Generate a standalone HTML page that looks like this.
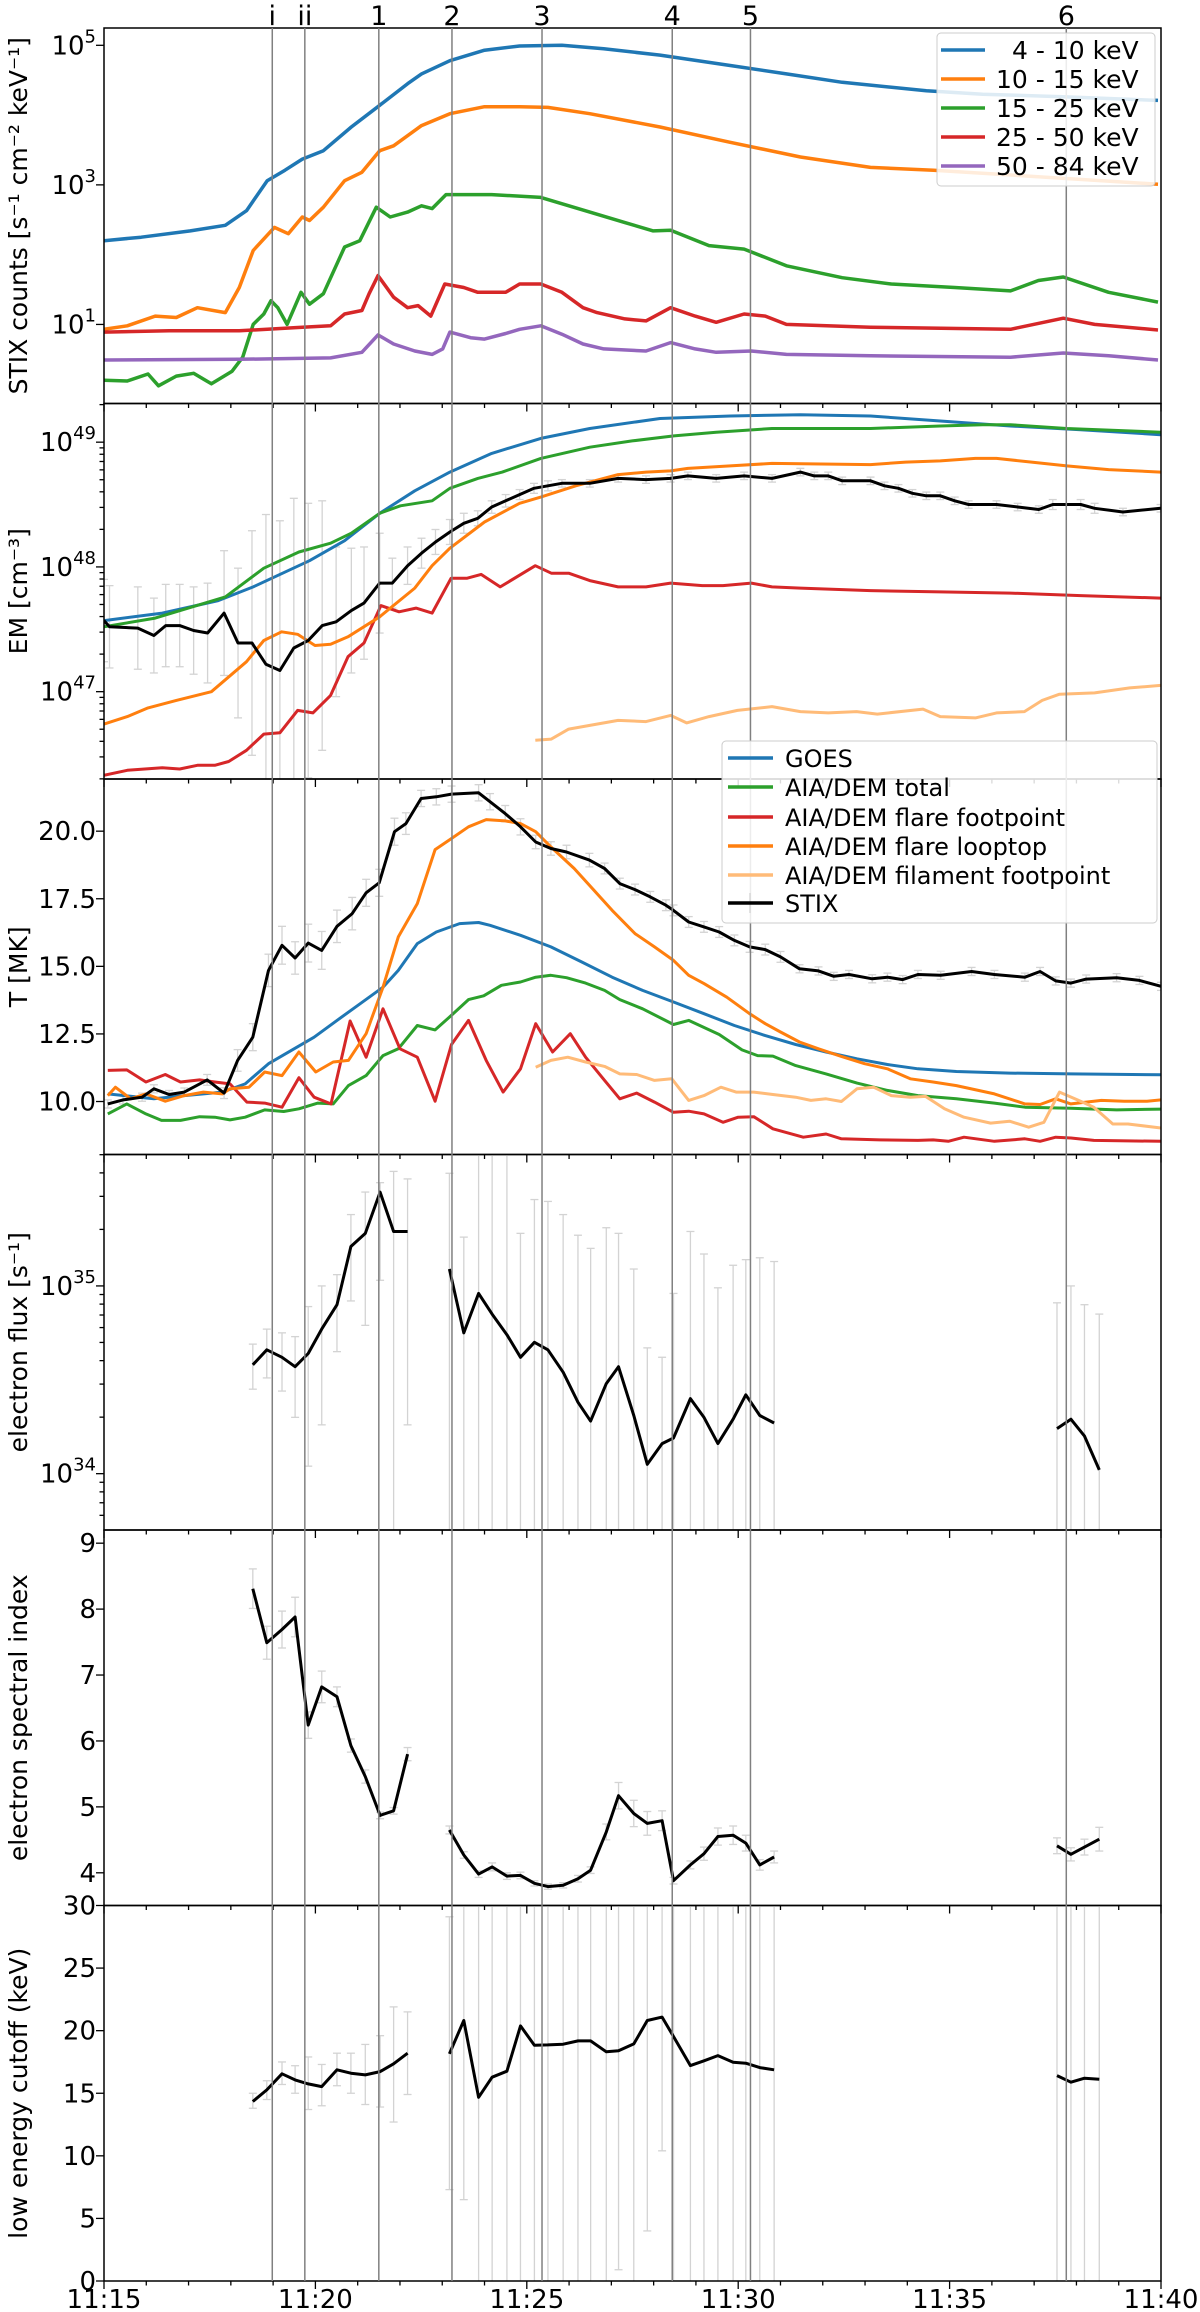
<!DOCTYPE html>
<html><head><meta charset="utf-8"><title>STIX flare overview</title>
<style>
html,body{margin:0;padding:0;background:#fff;}
svg{display:block;font-family:"DejaVu Sans","Liberation Sans",sans-serif;}
</style></head>
<body>
<svg id="chart" width="1200" height="2312" viewBox="0 0 1200 2312" xmlns="http://www.w3.org/2000/svg">
<g id="gl"></g>
</svg>
<script>
// ---------- Panel 1: STIX counts (log10 values) ----------
const tC1 = [0,0.88,2.04,2.87,3.37,3.86,4.28,4.69,5.19,5.85,6.52,7.18,7.51,8.18,9.0,9.83,10.83,11.82,13.15,14.81,16.14,17.46,19.45,20.78,22.77,24.93];
const c4_10 = [2.20,2.25,2.34,2.42,2.63,3.06,3.21,3.37,3.49,3.83,4.14,4.45,4.59,4.78,4.93,4.99,5.0,4.95,4.86,4.71,4.59,4.47,4.35,4.30,4.26,4.21];
const tC2 = [0,0.55,1.21,1.71,2.21,2.87,3.20,3.53,4.03,4.36,4.69,4.86,5.19,5.69,6.10,6.52,6.85,7.51,8.18,9.0,9.83,10.50,11.49,13.15,14.81,16.47,18.13,19.62,24.93];
const c10_15 = [0.93,0.98,1.12,1.10,1.24,1.17,1.53,2.06,2.39,2.30,2.54,2.49,2.68,3.06,3.18,3.49,3.56,3.85,4.02,4.12,4.12,4.11,4.02,3.83,3.61,3.40,3.25,3.21,3.01];
const tC3 = [0,0.55,1.04,1.29,1.71,2.12,2.54,3.03,3.28,3.53,3.78,3.95,4.11,4.33,4.66,4.86,5.19,5.69,6.05,6.44,6.77,7.18,7.51,7.76,8.09,9.17,10.33,11.49,12.32,12.99,13.40,14.31,15.14,16.14,17.46,18.62,20.12,21.44,22.10,22.69,23.76,24.93];
const c15_25 = [0.20,0.19,0.29,0.12,0.26,0.30,0.15,0.33,0.53,1.00,1.15,1.34,1.24,1.00,1.46,1.29,1.44,2.11,2.20,2.68,2.54,2.61,2.70,2.66,2.86,2.86,2.82,2.61,2.46,2.34,2.35,2.13,2.08,1.84,1.67,1.58,1.53,1.48,1.63,1.68,1.46,1.32];
const tC4 = [0,1.54,3.20,3.86,4.69,5.36,5.69,6.10,6.27,6.48,6.85,7.18,7.43,7.73,8.06,8.51,8.84,9.50,9.83,10.33,10.83,11.33,11.66,12.32,12.82,13.40,13.98,14.48,15.14,15.64,16.14,18.13,21.44,22.69,23.43,24.93];
const c25_50 = [0.89,0.91,0.91,0.93,0.96,0.98,1.15,1.20,1.44,1.70,1.39,1.24,1.27,1.12,1.58,1.53,1.46,1.46,1.58,1.58,1.46,1.24,1.17,1.08,1.05,1.24,1.12,1.03,1.15,1.12,1.00,0.96,0.93,1.09,1.00,0.92];
const tC5 = [0,3.20,5.36,6.10,6.48,6.85,7.35,7.76,8.01,8.18,8.67,9.0,9.50,9.83,10.33,10.83,11.33,11.82,12.82,13.40,13.98,14.48,15.31,16.14,18.13,21.44,22.69,23.76,24.93];
const c50_84 = [0.49,0.50,0.52,0.60,0.85,0.72,0.62,0.57,0.65,0.89,0.81,0.79,0.87,0.93,0.98,0.86,0.72,0.65,0.62,0.74,0.65,0.60,0.62,0.57,0.55,0.53,0.59,0.55,0.49];

// ---------- Panel 2: EM (log10 cm^-3) ----------
const tGoesEM = [0,1.38,2.70,3.53,4.86,5.69,6.52,7.35,8.18,9.17,10.33,11.49,13.15,14.81,16.47,18.13,19.78,21.44,23.10,24.99];
const goesEM = [47.57,47.63,47.73,47.84,48.05,48.21,48.43,48.61,48.76,48.91,49.03,49.11,49.19,49.21,49.22,49.21,49.17,49.13,49.10,49.06];
const tTotEM = [0,1.21,2.87,3.78,4.61,5.36,5.85,6.52,7.01,7.76,8.18,8.84,9.42,10.33,11.49,12.49,13.48,14.48,15.80,18.13,19.78,20.78,21.44,22.77,24.99];
const totEM = [47.52,47.59,47.76,47.99,48.12,48.19,48.27,48.43,48.49,48.53,48.63,48.71,48.76,48.87,48.96,49.01,49.05,49.08,49.11,49.11,49.13,49.14,49.14,49.11,49.08];
const tFpEM = [0,0.55,1.38,1.79,2.21,2.62,2.95,3.37,3.78,4.16,4.58,4.94,5.36,5.77,6.15,6.55,6.98,7.38,7.76,8.21,8.59,8.92,9.37,10.20,10.58,10.99,11.49,12.16,12.82,13.40,14.15,14.64,15.31,15.80,16.47,18.13,19.78,21.44,23.10,24.99];
const fpEM = [46.33,46.37,46.39,46.38,46.41,46.41,46.44,46.53,46.66,46.67,46.85,46.83,46.97,47.28,47.39,47.69,47.64,47.67,47.63,47.91,47.91,47.94,47.84,48.01,47.95,47.95,47.89,47.84,47.84,47.87,47.85,47.85,47.87,47.84,47.83,47.81,47.80,47.79,47.77,47.75];
const tLtEM = [0,0.55,1.04,1.71,2.54,3.37,3.78,4.20,4.58,4.99,5.36,5.77,6.52,7.35,7.76,8.18,9.0,9.83,10.33,11.16,12.16,12.82,13.40,13.81,14.81,15.80,18.13,18.96,19.78,20.61,21.11,21.94,22.77,23.76,24.99];
const ltEM = [46.74,46.80,46.87,46.93,47.00,47.24,47.41,47.48,47.46,47.37,47.38,47.44,47.60,47.83,48.01,48.15,48.36,48.51,48.56,48.65,48.74,48.76,48.77,48.79,48.81,48.83,48.82,48.84,48.85,48.87,48.87,48.84,48.81,48.78,48.76];
const tFilEM = [10.20,10.58,10.99,11.49,12.16,12.82,13.40,13.78,14.31,14.98,15.80,16.47,17.13,17.80,18.29,19.37,19.78,20.61,21.11,21.77,22.19,22.60,23.43,24.26,24.99];
const filEM = [46.61,46.62,46.70,46.73,46.77,46.76,46.81,46.75,46.80,46.85,46.88,46.84,46.83,46.84,46.82,46.86,46.80,46.79,46.83,46.84,46.93,46.98,46.99,47.03,47.05];
const tStixEM = [0,0.13,0.80,1.18,1.46,1.79,2.12,2.45,2.84,3.17,3.50,3.83,4.16,4.49,4.83,5.16,5.49,5.85,6.15,6.52,6.82,7.18,7.51,7.84,8.18,8.51,8.84,9.17,9.50,9.83,10.17,10.50,10.83,11.49,12.16,12.82,13.40,13.81,14.48,15.14,15.80,16.47,16.80,17.13,17.46,18.13,18.46,18.79,19.12,19.45,19.78,20.12,20.45,21.11,21.61,22.11,22.44,23.10,23.43,24.10,24.99];
const stixEM = [47.57,47.52,47.51,47.45,47.53,47.53,47.49,47.47,47.63,47.39,47.39,47.22,47.17,47.35,47.41,47.53,47.56,47.65,47.71,47.87,47.87,48.01,48.11,48.20,48.28,48.35,48.39,48.48,48.53,48.58,48.63,48.65,48.67,48.67,48.71,48.70,48.71,48.73,48.71,48.73,48.71,48.76,48.73,48.73,48.69,48.69,48.65,48.63,48.59,48.57,48.57,48.53,48.50,48.50,48.48,48.46,48.50,48.50,48.47,48.44,48.47];
const stixEMErr = [0.33,0.33,0.33,0.3,0.33,0.33,0.35,0.4,0.5,0.6,0.9,1.2,1.2,1.2,1.1,1.0,0.6,0.5,0.45,0.4,0.2,0.15,0.12,0.1,0.1,0.08,0.06,0.05,0.05,0.04,0.04,0.04,0.03,0.03,0.03,0.03,0.03,0.03,0.03,0.03,0.03,0.03,0.03,0.03,0.03,0.03,0.03,0.03,0.03,0.03,0.03,0.03,0.03,0.03,0.03,0.03,0.04,0.04,0.04,0.03,0.03];

// ---------- Panel 3: Temperature (MK) ----------
const tGoesT = [0.09,1.18,1.90,2.80,3.34,3.89,4.43,4.97,5.51,6.06,6.60,6.96,7.41,7.86,8.41,8.86,9.13,9.85,10.57,11.30,12.02,12.74,13.47,14.19,14.91,15.64,16.36,17.08,17.81,18.53,19.25,20.16,21.42,22.87,25.0];
const goesT = [10.28,10.10,10.22,10.35,10.65,11.40,11.89,12.38,13.00,13.62,14.23,14.85,15.84,16.27,16.58,16.62,16.52,16.15,15.72,15.16,14.60,14.11,13.68,13.25,12.81,12.44,12.11,11.83,11.58,11.37,11.21,11.11,11.05,11.02,10.99];
const tTotT = [0.09,0.54,0.99,1.36,1.81,2.26,2.62,2.98,3.34,3.80,4.25,4.61,5.06,5.42,5.78,6.20,6.60,6.96,7.41,7.83,8.22,8.62,8.98,9.40,9.85,10.21,10.57,10.94,11.39,11.84,12.20,12.74,13.47,13.83,14.55,15.09,15.46,15.82,16.36,17.08,17.81,18.53,19.25,20.16,21.06,21.78,22.87,23.95,25.0];
const totT = [9.54,9.91,9.54,9.30,9.30,9.44,9.42,9.32,9.42,9.69,9.63,9.73,9.94,9.91,10.59,10.96,11.70,11.95,12.81,12.65,13.19,13.77,13.91,14.30,14.42,14.60,14.67,14.58,14.38,14.11,13.77,13.43,12.85,13.00,12.48,11.91,11.70,11.68,11.33,11.02,10.68,10.41,10.22,10.10,9.94,9.79,9.75,9.69,9.72];
const tFpT = [0.09,0.54,0.99,1.45,1.81,2.26,2.62,2.98,3.38,3.80,4.21,4.61,4.97,5.37,5.82,6.20,6.60,7.00,7.41,7.83,8.22,8.62,9.04,9.44,9.85,10.21,10.61,11.03,11.39,11.84,12.20,12.60,13.02,13.47,13.83,14.19,14.64,15.00,15.37,15.82,16.54,17.08,17.44,18.35,19.25,19.61,19.97,20.34,21.06,21.78,22.14,22.51,22.87,23.41,25.0];
const fpT = [11.15,11.17,10.72,11.00,10.72,10.80,10.72,10.65,9.98,9.94,9.79,10.88,10.16,9.91,12.98,11.64,13.43,11.95,11.64,10.01,12.11,13.00,11.52,10.35,11.21,12.88,11.83,12.51,11.64,10.78,10.10,10.31,9.98,9.60,9.64,9.54,9.23,9.42,9.44,8.99,8.68,8.80,8.62,8.58,8.56,8.58,8.53,8.68,8.53,8.62,8.53,8.68,8.65,8.56,8.53];
const tLtT = [0.09,0.27,0.63,0.99,1.45,1.90,2.35,2.80,2.98,3.43,3.80,4.21,4.61,5.01,5.42,5.78,6.20,6.60,6.96,7.41,7.83,8.22,8.62,9.04,9.49,9.85,10.21,10.57,11.12,11.66,12.02,12.56,13.02,13.47,13.83,14.19,14.73,15.27,15.64,16.00,16.45,16.90,17.44,17.99,18.53,19.07,19.61,20.16,21.06,21.78,22.14,22.51,22.87,23.23,23.59,24.13,24.67,25.0];
const ltT = [10.22,10.53,10.10,10.28,10.01,10.22,10.35,10.28,10.47,10.53,11.09,10.96,11.83,11.09,11.46,11.52,12.51,14.23,16.09,17.32,19.32,19.73,20.16,20.43,20.38,20.28,19.98,19.42,18.62,17.69,17.07,16.21,15.72,15.22,14.67,14.36,13.86,13.25,12.88,12.57,12.20,11.95,11.67,11.40,11.21,10.84,10.72,10.59,10.28,9.91,9.89,10.10,9.91,9.98,10.04,10.01,10.01,10.06];
const tFilT = [10.21,10.57,10.97,11.39,11.84,12.20,12.60,13.02,13.43,13.83,14.19,14.59,14.95,15.37,15.82,16.36,16.72,17.08,17.44,17.81,18.20,18.62,19.07,19.43,19.88,20.34,20.97,21.42,21.87,22.23,22.60,23.05,23.41,23.86,24.22,25.0];
const filT = [11.27,11.52,11.64,11.46,11.30,11.02,11.00,10.78,10.84,10.04,10.22,10.53,10.35,10.35,10.26,10.16,10.04,10.10,10.00,10.47,10.53,10.22,10.16,10.19,9.73,9.42,9.20,9.27,9.05,9.23,10.35,10.04,9.79,9.17,9.17,9.02];
const tStixT = [0.09,0.45,0.90,1.18,1.54,1.90,2.44,2.84,3.16,3.52,3.89,4.21,4.52,4.83,5.15,5.51,5.87,6.20,6.51,6.87,7.14,7.50,7.86,8.22,8.86,9.13,9.49,9.85,10.21,10.57,10.94,11.48,11.84,12.20,12.56,12.92,13.29,13.47,13.83,14.19,14.55,14.91,15.27,15.64,16.00,16.45,16.90,17.26,17.62,18.17,18.53,18.89,19.25,19.79,20.52,21.06,21.78,22.14,22.51,22.87,23.23,23.95,24.49,25.0];
const stixT = [9.91,10.06,10.16,10.47,10.26,10.35,10.80,10.31,11.52,12.38,14.85,15.78,15.31,15.86,15.59,16.48,16.95,17.72,18.09,19.98,20.28,21.21,21.27,21.37,21.42,21.09,20.65,20.16,19.60,19.36,19.23,18.93,18.62,18.06,17.84,17.57,17.26,17.07,16.64,16.46,16.27,15.96,15.72,15.62,15.35,14.91,14.83,14.63,14.70,14.54,14.60,14.51,14.70,14.67,14.81,14.70,14.60,14.81,14.46,14.38,14.53,14.58,14.48,14.26];
const stixTErr = [0.15,0.15,0.15,0.15,0.15,0.15,0.2,0.2,0.4,0.5,0.6,0.7,0.6,0.7,0.7,0.6,0.6,0.5,0.5,0.5,0.4,0.3,0.3,0.3,0.3,0.3,0.3,0.3,0.25,0.25,0.25,0.25,0.2,0.2,0.2,0.2,0.2,0.2,0.2,0.2,0.2,0.2,0.2,0.2,0.2,0.15,0.15,0.15,0.15,0.15,0.15,0.15,0.15,0.15,0.15,0.15,0.15,0.15,0.15,0.15,0.15,0.15,0.15,0.15];

// ---------- Panels 4-6: non-thermal fit parameters ----------
const tNT = [3.52,3.85,4.21,4.52,4.83,5.15,5.51,5.84,6.18,6.53,6.85,7.18,8.17,8.51,8.86,9.18,9.53,9.85,10.18,10.50,10.86,11.21,11.51,11.88,12.17,12.53,12.85,13.20,13.47,13.87,14.19,14.52,14.88,15.18,15.51,15.85,22.54,22.87,23.19,23.54];
const fluxLog = [34.58,34.66,34.62,34.57,34.64,34.77,34.90,35.21,35.28,35.50,35.29,35.29,35.09,34.75,34.96,34.85,34.74,34.62,34.70,34.66,34.54,34.38,34.28,34.48,34.57,34.31,34.05,34.16,34.19,34.40,34.30,34.16,34.29,34.42,34.31,34.27,34.24,34.29,34.20,34.02];
const fluxHi = [34.69,34.77,34.75,34.73,34.89,35.00,35.06,35.38,35.50,35.55,35.61,35.57,35.60,35.26,35.8,35.8,35.8,35.28,35.46,35.45,35.38,35.27,35.20,35.31,35.28,35.09,34.67,34.62,34.96,35.29,35.17,34.99,35.11,35.14,35.15,35.13,34.91,35.00,34.90,34.85];
const fluxLo = [34.45,34.51,34.44,34.30,34.04,34.26,34.65,34.92,34.79,35.03,33.6,34.26,33.6,33.6,33.6,33.6,33.6,33.6,33.6,33.6,33.6,33.6,33.6,33.6,33.6,33.6,33.6,33.6,33.6,33.6,33.6,33.6,33.6,33.6,33.6,33.6,33.6,33.6,33.6,33.6];
const specIdx = [8.31,7.49,7.69,7.88,6.24,6.82,6.67,5.93,5.46,4.87,4.94,5.80,4.65,4.27,3.98,4.09,3.95,3.96,3.84,3.79,3.81,3.91,4.04,4.62,5.17,4.90,4.75,4.79,3.88,4.12,4.29,4.55,4.57,4.45,4.12,4.24,4.41,4.28,4.39,4.51];
const specErr = [0.3,0.25,0.28,0.3,0.2,0.24,0.15,0.1,0.1,0.05,0.05,0.1,0.06,0.05,0.05,0.06,0.05,0.05,0.04,0.04,0.04,0.05,0.05,0.12,0.2,0.2,0.18,0.15,0.05,0.06,0.1,0.13,0.14,0.12,0.08,0.09,0.12,0.1,0.12,0.18];
const cutoff = [14.34,15.27,16.55,16.07,15.75,15.53,16.87,16.60,16.47,16.73,17.35,18.20,18.15,20.81,14.68,16.28,16.76,20.38,18.84,18.86,18.92,19.18,19.18,18.31,18.39,18.94,20.81,21.08,19.53,17.21,17.59,18.01,17.48,17.40,17.05,16.87,16.41,15.88,16.20,16.12];
const cutHi = [15.0,16.0,17.5,17.2,17.9,17.3,18.2,18.2,18.9,19.6,21.9,21.5,29.1,31,31,31,31,31,31,31,31,31,31,31,31,31,31,31,31,31,31,31,31,31,31,31,31,31,31,31];
const cutLo = [13.8,14.5,15.7,15.0,13.7,14.0,15.6,15.0,14.1,13.9,12.7,14.9,7.3,6.5,-1,-1,-1,-1,-1,-1,-1,-1,-1,-1,0.9,-1,4.0,10.4,-1,-1,-1,-1,-1,-1,-1,-1,-1,-1,-1,-1];

// ---------- event markers ----------
const markerLabels = ['i','ii','1','2','3','4','5','6'];
const markerTimes = [3.98,4.75,6.50,8.23,10.36,13.44,15.29,22.76];
const xTickLabels = ['11:15','11:20','11:25','11:30','11:35','11:40'];

// ---------- geometry ----------
const L = 104, R = 1161, PH = 375.5;
const tops = [28, 403.5, 779, 1154.5, 1530, 1905.5];
const ranges = [[-0.133,5.248],[46.30,49.31],[8.04,21.93],[33.70,35.70],[3.504,9.2],[0,30]];
function X(t){ return L + t*(R-L)/25; }
function Y(p,v){ return tops[p] + (ranges[p][1]-v)/(ranges[p][1]-ranges[p][0])*PH; }

const NS = 'http://www.w3.org/2000/svg';
const svg = document.getElementById('chart');
function add(parent, tag, attrs, name, txt){
  const e = document.createElementNS(NS, tag);
  for (const k in attrs) e.setAttribute(k, attrs[k]);
  
  
  if (txt !== undefined) e.textContent = txt;
  parent.appendChild(e);
  return e;
}
const defs = add(svg, 'defs', {}, 'defs');
for (let p=0;p<6;p++){
  const cp = add(defs, 'clipPath', {id:'clip'+p}, 'panel-clip');
  add(cp, 'rect', {x:L, y:tops[p], width:R-L, height:PH}, 'clip-rect');
}
const panelG = [];
for (let p=0;p<6;p++){
  const g = add(svg, 'g', {}, 'panel-'+(p+1));
  panelG.push(g);
}
function line(p, ts, vs, color, w, name, gap){
  const g = add(panelG[p], 'g', {'clip-path':'url(#clip'+p+')'}, name);
  let d = '';
  for (let i=0;i<ts.length;i++){
    const brk = i===0 || (gap && ts[i]-ts[i-1] > gap);
    d += (brk?'M':'L') + X(ts[i]).toFixed(1) + ',' + Y(p,vs[i]).toFixed(1);
  }
  add(g, 'path', {d:d, fill:'none', stroke:color, 'stroke-width':w, 'stroke-linejoin':'round'}, name+'-line');
}
function errbars(p, ts, hi, lo, name){
  const g = add(panelG[p], 'g', {'clip-path':'url(#clip'+p+')'}, name);
  for (let i=0;i<ts.length;i++){
    const x = X(ts[i]), y1 = Y(p,hi[i]), y2 = Y(p,lo[i]);
    add(g, 'line', {x1:x, x2:x, y1:y1, y2:y2, stroke:'#d3d3d3', 'stroke-width':1.3}, 'error-bar');
    add(g, 'line', {x1:x-4, x2:x+4, y1:y1, y2:y1, stroke:'#d3d3d3', 'stroke-width':1.3}, 'error-cap');
    add(g, 'line', {x1:x-4, x2:x+4, y1:y2, y2:y2, stroke:'#d3d3d3', 'stroke-width':1.3}, 'error-cap');
  }
}

// marker lines
const mg = add(svg, 'g', {}, 'event-markers');
for (let i=0;i<markerTimes.length;i++){
  const x = X(markerTimes[i]);
  add(mg, 'line', {x1:x, x2:x, y1:tops[0], y2:tops[5]+PH, stroke:'#808080', 'stroke-width':1.5}, 'event-line-'+markerLabels[i]);
  add(mg, 'text', {x:x, y:25, 'text-anchor':'middle', 'font-size':27}, 'event-label-'+markerLabels[i], markerLabels[i]);
}

// panel 1
line(0, tC1, c4_10, '#1f77b4', 3.5, 'series-4-10kev');
line(0, tC2, c10_15, '#ff7f0e', 3.5, 'series-10-15kev');
line(0, tC3, c15_25, '#2ca02c', 3.5, 'series-15-25kev');
line(0, tC4, c25_50, '#d62728', 3.5, 'series-25-50kev');
line(0, tC5, c50_84, '#9467bd', 3.5, 'series-50-84kev');
// panel 2
errbars(1, tStixEM, stixEM.map((v,i)=>v+stixEMErr[i]), stixEM.map((v,i)=>v-stixEMErr[i]), 'stix-em-errors');
line(1, tGoesEM, goesEM, '#1f77b4', 3, 'goes-em');
line(1, tTotEM, totEM, '#2ca02c', 3, 'aia-total-em');
line(1, tFpEM, fpEM, '#d62728', 3, 'aia-footpoint-em');
line(1, tLtEM, ltEM, '#ff7f0e', 3, 'aia-looptop-em');
line(1, tFilEM, filEM, '#ffbb78', 3, 'aia-filament-em');
line(1, tStixEM, stixEM, '#000', 3, 'stix-em');
// panel 3
errbars(2, tStixT, stixT.map((v,i)=>v+stixTErr[i]), stixT.map((v,i)=>v-stixTErr[i]), 'stix-t-errors');
line(2, tGoesT, goesT, '#1f77b4', 3, 'goes-t');
line(2, tTotT, totT, '#2ca02c', 3, 'aia-total-t');
line(2, tFpT, fpT, '#d62728', 3, 'aia-footpoint-t');
line(2, tLtT, ltT, '#ff7f0e', 3, 'aia-looptop-t');
line(2, tFilT, filT, '#ffbb78', 3, 'aia-filament-t');
line(2, tStixT, stixT, '#000', 3, 'stix-t');
// panel 4-6
errbars(3, tNT, fluxHi, fluxLo, 'flux-errors');
line(3, tNT, fluxLog, '#000', 3, 'electron-flux', 0.6);
errbars(4, tNT, specIdx.map((v,i)=>v+specErr[i]), specIdx.map((v,i)=>v-specErr[i]), 'index-errors');
line(4, tNT, specIdx, '#000', 3, 'spectral-index', 0.6);
errbars(5, tNT, cutHi, cutLo, 'cutoff-errors');
line(5, tNT, cutoff, '#000', 3, 'low-energy-cutoff', 0.6);

// axes: frames, x ticks
for (let p=0;p<6;p++){
  const g = panelG[p];
  add(g, 'rect', {x:L, y:tops[p], width:R-L, height:PH, fill:'none', stroke:'#000', 'stroke-width':1.5}, 'axes-frame');
  const yb = tops[p]+PH;
  for (let m=0;m<=25;m++){
    const len = (m%5===0)?8:4.5;
    add(g, 'line', {x1:X(m), x2:X(m), y1:yb, y2:yb+len, stroke:'#000', 'stroke-width':1.3}, 'x-tick');
  }
}
for (let k=0;k<xTickLabels.length;k++){
  add(panelG[5], 'text', {x:X(k*5), y:2308, 'text-anchor':'middle', 'font-size':26}, 'x-tick-label', xTickLabels[k]);
}
// y ticks
function ytick(p, v, len){ add(panelG[p], 'line', {x1:L-len, x2:L, y1:Y(p,v), y2:Y(p,v), stroke:'#000', 'stroke-width':1.3}, 'y-tick'); }
function ylab(p, v, txt, sup){
  const t = add(panelG[p], 'text', {x:96, y:Y(p,v)+9, 'text-anchor':'end', 'font-size':26}, 'y-tick-label', txt);
  if (sup){
    const s = document.createElementNS(NS,'tspan');
    
    
    s.setAttribute('dy','-12'); s.setAttribute('font-size','18'); s.textContent = sup;
    t.appendChild(s);
  }
}
const p1Ticks = [1,3,5];
for (const v of p1Ticks){ ytick(0,v,8); ylab(0,v,'10',String(v)); }
const p2Ticks = [47,48,49];
for (const v of p2Ticks){ ytick(1,v,8); ylab(1,v,'10',String(v)); }
const p4Ticks = [34,35];
for (const v of p4Ticks){ ytick(3,v,8); ylab(3,v,'10',String(v)); }
for (const p of [1,3]){
  for (let d=Math.floor(ranges[p][0]); d<=ranges[p][1]; d++){
    for (let k=2;k<=9;k++){ const v=d+Math.log10(k); if (v>ranges[p][0] && v<ranges[p][1]) ytick(p,v,4.5); }
  }
}
const p3Ticks = [10,12.5,15,17.5,20];
for (const v of p3Ticks){ ytick(2,v,8); ylab(2,v,v.toFixed(1)); }
const p5Ticks = [4,5,6,7,8,9];
for (const v of p5Ticks){ ytick(4,v,8); ylab(4,v,String(v)); }
const p6Ticks = [0,5,10,15,20,25,30];
for (const v of p6Ticks){ ytick(5,v,8); ylab(5,v,String(v)); }

// y-axis titles
const yTitles = ['STIX counts [s\u207B\u00B9 cm\u207B\u00B2 keV\u207B\u00B9]','EM [cm\u207B\u00B3]','T [MK]','electron flux [s\u207B\u00B9]','electron spectral index','low energy cutoff (keV)'];
for (let p=0;p<6;p++){
  const cy = tops[p]+PH/2;
  add(panelG[p], 'text', {x:0, y:0, transform:'translate(27,'+cy+') rotate(-90)', 'text-anchor':'middle', 'font-size':25}, 'y-axis-title', yTitles[p]);
}
</script>
<svg style="position:absolute;left:0;top:0" width="1200" height="2312">
 <g font-family="DejaVu Sans, Liberation Sans, sans-serif" font-size="25">
  <rect x="937" y="33" width="218" height="153" rx="4" fill="#fff" fill-opacity="0.85" stroke="#ccc"/>
  <line x1="941" x2="985" y1="50" y2="50" stroke="#1f77b4" stroke-width="3.5"/>
  <text x="1012" y="59">4 - 10 keV</text>
  <line x1="941" x2="985" y1="79" y2="79" stroke="#ff7f0e" stroke-width="3.5"/>
  <text x="996" y="88">10 - 15 keV</text>
  <line x1="941" x2="985" y1="108" y2="108" stroke="#2ca02c" stroke-width="3.5"/>
  <text x="996" y="117">15 - 25 keV</text>
  <line x1="941" x2="985" y1="137" y2="137" stroke="#d62728" stroke-width="3.5"/>
  <text x="996" y="146">25 - 50 keV</text>
  <line x1="941" x2="985" y1="166" y2="166" stroke="#9467bd" stroke-width="3.5"/>
  <text x="996" y="175">50 - 84 keV</text>
 </g>
 <g font-family="DejaVu Sans, Liberation Sans, sans-serif" font-size="24">
  <rect x="722" y="741" width="435" height="182" rx="4" fill="#fff" fill-opacity="0.85" stroke="#ccc"/>
  <line x1="728" x2="773" y1="758" y2="758" stroke="#1f77b4" stroke-width="3.5"/>
  <text x="785" y="767">GOES</text>
  <line x1="728" x2="773" y1="787" y2="787" stroke="#2ca02c" stroke-width="3.5"/>
  <text x="785" y="796">AIA/DEM total</text>
  <line x1="728" x2="773" y1="817" y2="817" stroke="#d62728" stroke-width="3.5"/>
  <text x="785" y="826">AIA/DEM flare footpoint</text>
  <line x1="728" x2="773" y1="846" y2="846" stroke="#ff7f0e" stroke-width="3.5"/>
  <text x="785" y="855">AIA/DEM flare looptop</text>
  <line x1="728" x2="773" y1="875" y2="875" stroke="#ffbb78" stroke-width="3.5"/>
  <text x="785" y="884">AIA/DEM filament footpoint</text>
  <line x1="750" x2="750" y1="893" y2="913" stroke="#d3d3d3" stroke-width="1.3"/>
  <line x1="728" x2="773" y1="903" y2="903" stroke="#000" stroke-width="3.5"/>
  <text x="785" y="912">STIX</text>
 </g>
</svg>
</body></html>
